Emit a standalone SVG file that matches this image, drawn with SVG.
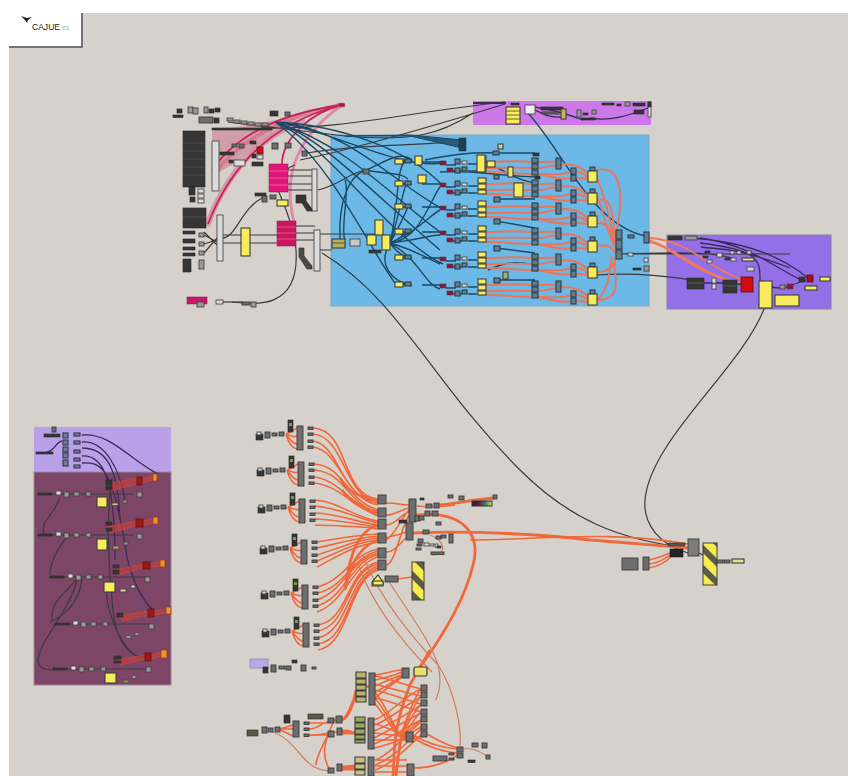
<svg xmlns="http://www.w3.org/2000/svg" xmlns:xlink="http://www.w3.org/1999/xlink" width="848" height="776" viewBox="0 0 848 776">
<style>
.g{fill:#6e6e6e;stroke:#3c3c3c;stroke-width:.9}
.m{fill:#9a9a9a;stroke:#444;stroke-width:.9}
.l{fill:#dcdcdc;stroke:#4a4a4a;stroke-width:.9}
.y{fill:#f8ec5c;stroke:#3c3c3c;stroke-width:1.1}
.d{fill:#363636;stroke:#262626;stroke-width:.6}
.r{fill:#8e1232;stroke:#444;stroke-width:.6}
.s{fill:#5f7f90;stroke:#2c3d48;stroke-width:1.1}
.c{fill:#cf1010;stroke:#5a1010;stroke-width:.8}
.a{fill:#e8962e;stroke:#a03a20;stroke-width:.8}
.p{fill:#e0147a;stroke:#8a1050;stroke-width:.5}
.z{fill:none;stroke:#f0683a;stroke-width:1.6}
.zr{fill:none;stroke:#ea7558;stroke-width:1.9}
.zb{fill:none;stroke:#f0683a;stroke-width:2.8}
.zt{fill:none;stroke:#c9805f;stroke-width:1.2}
.k{fill:none;stroke:#3b3b3e;stroke-width:1.2}
.t{fill:none;stroke:#1a4a66;stroke-width:1.4}
.v{fill:none;stroke:#3e2a5c;stroke-width:1.3}
.rw{fill:none;stroke:#c8245a;stroke-width:1.8}
</style>
<defs>
<filter id="soft" x="-2%" y="-2%" width="104%" height="104%"><feGaussianBlur stdDeviation="0.6"/></filter>
<pattern id="hatch" width="14" height="14" patternUnits="userSpaceOnUse" patternTransform="rotate(45)"><rect width="14" height="14" fill="#f8ec4c"/><rect width="14" height="6" fill="#5c5c4a"/></pattern>
<linearGradient id="spec" x1="0" x2="1"><stop offset="0" stop-color="#222"/><stop offset=".35" stop-color="#5a1a50"/><stop offset=".7" stop-color="#3a8a70"/><stop offset="1" stop-color="#e8d850"/></linearGradient>
<g id="row">
<path class="zr" d="M485 2C505 2 515 0 532 2M485 8C505 8 515 7 532 8M485 12C505 12 515 14 532 14M538 2C548 2 552 1 556 2M538 8C548 8 552 4 556 6M538 14C550 14 560 16 571 12M538 14C555 18 565 20 571 18M561 4C575 4 580 6 588 14M576 12C582 12 585 14 588 18M576 18C582 18 585 18 588 20"/>
<path class="t" d="M402 2H412M422 2H440M446 5H456M453 11H462M468 4H477M468 11H477"/>
<rect class="y" x="395" y="-1" width="8" height="5"/><rect class="s" x="405" y="-1" width="6" height="4"/>
<rect class="r" x="440" y="1" width="6" height="4"/><rect class="r" x="447" y="8" width="6" height="4"/>
<rect class="s" x="455" y="-1" width="5" height="5"/><rect class="s" x="455" y="8" width="5" height="5"/><rect class="l" x="462" y="1" width="5" height="3"/><rect class="s" x="462" y="7" width="5" height="4"/>
<rect class="y" x="478" y="-4" width="8" height="5"/><rect class="y" x="478" y="2" width="8" height="5"/><rect class="y" x="478" y="8" width="8" height="4"/>
<rect class="s" x="532" y="-2" width="6" height="5"/><rect class="s" x="532" y="4" width="6" height="5"/><rect class="s" x="532" y="10" width="6" height="5"/>
<rect class="s" x="556" y="-2" width="5" height="11"/><rect class="s" x="571" y="8" width="5" height="6"/><rect class="s" x="571" y="15" width="5" height="6"/>
<rect class="s" x="590" y="7" width="5" height="4"/><rect class="y" x="588" y="11" width="9" height="11"/>
</g>
<g id="fan">
<path class="z" d="M286 434C292 432 294 430 297 428M286 434C292 436 294 438 297 436M286 434C290 440 294 444 297 444M286 434C288 442 292 448 297 449"/>
<rect class="d" x="256" y="434" width="7" height="6"/><rect class="l" x="257" y="432" width="4" height="3"/>
<rect class="g" x="265" y="432" width="5" height="6"/><rect class="g" x="272" y="433" width="5" height="3"/><rect class="g" x="279" y="432" width="5" height="4"/>
<rect class="d" x="288" y="420" width="5" height="12"/><rect x="289" y="423" width="3" height="3" fill="#7a9a50"/>
<rect class="g" x="297" y="426" width="6" height="24"/>
<rect class="g" x="308" y="427" width="5" height="2.400"/><rect class="g" x="308" y="433" width="5" height="2.400"/><rect class="g" x="308" y="440" width="5" height="2.400"/><rect class="g" x="308" y="446" width="5" height="2.400"/>
</g>
<g id="lrow">
<path class="k" d="M44 0H66M70 0H76M82 0H88"/>
<path class="d" d="M40 -1h14v2h-14z"/>
<rect class="l" x="58" y="-3" width="5" height="4"/><rect class="m" x="66" y="-2" width="5" height="5"/><rect class="m" x="76" y="-2" width="5" height="4"/>
<rect class="m" x="88" y="-2" width="5" height="4"/>
<path class="k" d="M92 0H136"/>
</g>
</defs>
<rect width="848" height="776" fill="#ffffff"/>
<rect x="9" y="13" width="839" height="763" fill="#d6d2cb"/>
<g filter="url(#soft)">
<g id="group-blue"><rect x="331" y="135" width="318" height="171" fill="#6cb8e6" stroke="#7aa9c4"/></g>
<g id="group-pink"><rect x="473" y="101" width="178" height="24" fill="#cc78e8"/></g>
<g id="group-violet"><rect x="667" y="235" width="164" height="74" fill="#9370e8" stroke="#8a80a8"/></g>
<g id="group-lilac"><rect x="34" y="427" width="137" height="45" fill="#b9a0e8"/></g>
<g id="group-maroon"><rect x="34" y="472" width="137" height="213" fill="#7d4466" stroke="#9a8aa0"/></g>

<g id="connectors">
<path d="M212 131L300 116L240 160L213 176Z" fill="#c8607e" opacity=".45"/>
<path d="M207 226C222 185 250 140 305 120" fill="none" stroke="#d88aa2" stroke-width="6" opacity=".8"/>
<path d="M213 175C240 140 280 118 340 105" fill="none" stroke="#d8708e" stroke-width="4" opacity=".8"/>
<path class="rw" d="M208 224C225 180 260 125 342 105M212 170C240 130 290 112 342 105"/>
<path d="M294 222C286 190 285 145 342 105" fill="none" stroke="#e08aa4" stroke-width="3"/>
<path class="rw" d="M282 164C282 140 310 112 342 105"/>
<path class="k" d="M228 122L345 136C410 142 440 135 473 113M262 128C340 130 410 112 505 102M300 160C350 150 420 130 505 104"/>
<path class="k" d="M307 153C350 146 400 145 462 142"/>
<path class="k" d="M222 238C236 238 240 210 262 198M223 235H277M223 243H277M296 226H315M296 233H315M296 240H315M288 170H312M288 176H312M288 184H312M288 190H312M318 190C340 185 350 172 366 170M319 234H375M319 250H332"/>
<path class="k" d="M232 302C255 305 300 310 296 250C294 225 282 200 278 190C276 180 285 168 295 165"/>
<path class="k" d="M223 302H243"/>
<path class="k" d="M322 253C400 300 430 380 520 470C570 520 620 540 688 548"/>
<path class="k" d="M764 309C740 370 650 440 645 500C643 525 660 545 688 553"/>
<path class="t" d="M275 122C320 135 380 200 440 250M275 122C330 130 400 170 443 163M275 122C340 125 410 150 443 186M275 122C350 128 395 185 443 209M275 122C350 145 400 205 443 234M275 122C330 145 390 240 443 264M275 122C330 160 370 250 395 283"/>
<path d="M345 136H410L462 148L462 140L410 135Z" fill="#2a5a74" stroke="#1a4a66"/>
<path class="t" d="M345 180C350 190 340 230 345 240M366 170C350 175 338 200 340 239M366 170C385 162 400 150 412 160M366 170C390 175 400 172 408 179"/>
<path class="t" d="M390 243C400 200 395 175 405 160M390 243C400 215 402 190 408 180M390 243C400 225 405 215 408 206M390 243C400 240 405 232 410 231M390 243C395 250 400 255 408 258M390 243C380 260 385 275 405 284M390 243C420 240 430 200 440 187M390 243C420 230 430 215 440 210M390 243C420 240 430 235 440 235M390 243C415 250 430 260 440 264M390 243C420 260 425 285 440 289"/>
<path class="t" d="M425 160C450 155 470 152 496 153H535M440 172C470 170 490 175 535 177M496 199H535M496 221L535 228M496 248L535 253M496 280H535M490 165C505 170 515 180 535 183M488 270C510 260 520 262 535 265"/>
<path class="t" d="M526 111C560 145 590 225 646 236"/>
<path class="k" d="M597 275C640 272 680 278 690 280M620 254C660 253 720 250 735 260M625 254H790"/>
<path class="zr" d="M597 170C620 165 625 190 616 234M597 200C615 195 612 220 616 244M597 223C612 222 612 235 616 250M597 246C610 244 612 248 616 254M597 272C612 272 614 264 616 256M597 300C628 300 610 270 616 256M597 178C612 215 608 225 616 238M597 196C605 215 607 235 616 248M597 300C612 285 608 270 612 256"/>
<path d="M649 238C690 240 710 270 741 279M649 240C680 250 700 275 741 283M649 242C670 245 690 270 730 281" fill="none" stroke="#f07a5a" stroke-width="1.800"/>
<path class="v" d="M685 238C740 240 780 255 808 278M700 238C750 245 770 265 805 282M701 247C720 250 730 245 790 268M760 281C760 260 760 250 700 243M772 287C785 290 790 285 806 280M737 284H743M716 283H723M704 283H712"/>
<path class="v" d="M481 103H505M535 110C545 115 550 118 563 117M535 107C555 110 570 115 583 120M590 118C610 122 630 115 648 108"/>

<path class="v" d="M82 435C110 432 130 460 158 474M82 442C105 440 120 470 125 500M82 448C105 448 118 465 120 520M82 456C100 455 115 470 115 560M82 463C100 462 112 465 125 545C128 570 140 600 155 612M42 453C55 453 55 442 62 441"/>
<path class="k" d="M60 497C55 515 40 520 44 533M70 533C60 545 50 560 50 575M78 577C70 590 50 600 52 620M77 580C70 610 40 640 38 660C38 670 48 670 58 670M82 578C80 605 60 618 50 622"/>
<path class="k" d="M112 478C105 520 110 580 112 600C114 640 130 660 145 656M107 592C105 610 125 660 145 658"/>
<g stroke="#e0482e" fill="#c8403a" opacity=".65"><path d="M107 484L137 478V484L110 491Z"/><path d="M107 527L136 521V526L110 533Z"/><path d="M115 570L143 564V568L118 575Z"/><path d="M120 616L148 611V615L122 621Z"/><path d="M118 660L145 655V659L120 665Z"/><path d="M142 479L153 476V480L142 483Z"/><path d="M143 521L153 519V523L143 525Z"/><path d="M150 564L160 562V566L150 567Z"/><path d="M154 611L166 609V613L154 615Z"/><path d="M151 655L161 652V656L151 659Z"/></g>

<path class="z" d="M313 428C350 430 340 495 378 499M313 434C345 436 345 500 378 501M313 441C340 445 340 498 378 503M313 447C340 450 345 500 378 505"/>
<path class="z" d="M314 464C345 466 345 500 378 510M314 470C345 472 348 505 378 512M314 477C340 480 350 505 378 514M314 483C340 486 350 505 378 516"/>
<path class="z" d="M315 500C340 502 355 518 378 521M315 506C340 508 355 518 378 523M315 513C340 514 355 522 378 525M315 519C340 520 355 524 378 527M315 525C340 526 360 526 378 529"/>
<path class="z" d="M317 542C340 538 355 535 378 534M317 548C340 543 355 538 378 536M317 555C340 548 355 540 378 538M317 561C340 552 355 542 378 540M317 567C340 555 355 545 378 542"/>
<path class="z" d="M317 587C345 580 350 555 378 549M317 593C345 588 350 558 378 551M317 600C345 590 350 560 378 553M317 606C345 598 352 560 378 555M317 612C345 602 352 565 378 557"/>
<path class="z" d="M318 625C350 620 345 570 378 562M318 631C350 625 345 572 378 564M318 638C350 630 348 575 378 566M318 644C350 640 348 578 378 568M318 650C350 645 348 580 378 570"/>
<path class="zb" d="M345 590C352 555 365 545 378 540M345 590C350 550 360 530 378 525"/>
<path class="zb" d="M340 478C350 495 362 497 378 500M342 490C352 505 365 510 378 512"/>
<path class="z" d="M386 503C400 503 400 505 409 505M386 515C395 515 400 510 409 508M386 525C395 525 400 515 409 512M386 538C395 535 400 535 406 532M386 552C395 552 398 545 406 538M386 565C395 565 400 530 409 515M386 540C395 535 400 520 409 510"/>
<path class="zb" d="M412 533C470 530 550 535 590 540C620 542 650 545 688 548"/>
<path class="zb" d="M416 515C470 510 480 540 473 565C465 600 440 640 418 670"/>
<path class="z" d="M470 540C540 540 610 530 688 544"/>
<path class="z" d="M417 506C430 508 445 506 455 505"/>
<path class="zb" d="M439 505C460 503 470 500 494 498"/>
<path class="z" d="M398 579L412 577"/>
<path class="zt" d="M358 565C375 610 410 650 432 672M363 556C380 600 415 640 438 665C442 680 440 690 436 700M388 580C410 615 430 640 438 665"/>
<path class="zt" d="M430 535C445 540 448 555 432 555"/>
<path class="z" d="M649 560C660 558 665 555 672 552M649 564C660 563 665 558 672 554M649 568C660 566 668 560 672 556"/>
<path class="k" d="M699 553L712 560"/>

<path class="z" d="M375 675C385 674 395 670 402 670M375 680C385 678 395 675 402 672M375 686C385 682 395 677 402 675M375 692C385 688 395 680 402 676M375 698C385 690 395 682 402 677"/>
<path class="z" d="M375 676C395 680 405 685 421 689M375 684C395 690 405 692 421 696M375 690C395 695 405 700 421 704M375 698C395 702 405 708 421 712"/>
<path class="z" d="M374 720C390 715 405 695 421 689M374 725C390 720 405 705 421 697M374 731C390 725 405 715 421 705M374 738C390 730 405 722 421 713M374 744C390 738 405 728 421 720"/>
<path class="z" d="M374 724C385 726 395 732 406 735M374 733C385 734 395 736 406 736M374 740H406M374 748C385 746 395 742 406 738"/>
<path class="z" d="M400 737C405 725 412 700 421 689M400 737C405 728 412 705 421 697M400 737C406 730 412 712 421 705M400 737C408 732 414 718 421 712M400 737C408 733 414 725 421 720M400 737C410 735 415 730 421 727M400 737H421"/>
<path class="z" d="M375 698C385 710 392 725 400 737M375 692C385 705 392 720 400 737M375 704C385 715 392 730 400 737"/>
<path class="z" d="M375 760C390 755 405 735 421 722M375 765C390 760 405 745 421 729M375 770C390 765 405 750 421 735"/>
<path class="z" d="M375 760H407M375 766H407M375 772H407"/>
<path class="zb" d="M393 776C395 750 392 730 410 685C415 675 420 668 430 650"/>
<path class="zb" d="M396 776C398 755 400 745 402 732"/>
<path class="zb" d="M342 719C352 718 350 690 369 686M342 720C352 715 355 695 356 690"/>
<path class="zb" d="M342 731C350 730 352 733 355 733M342 733H355"/>
<path class="zb" d="M342 767C348 767 350 766 355 766M342 769H355"/>
<path class="z" d="M309 723H328M309 729C320 729 320 721 336 720M309 735H328M309 735C320 736 322 733 337 732M334 721C325 740 320 755 330 770M328 735C320 750 316 760 316 765M280 729C290 726 290 726 293 725M280 729H293M280 730C288 733 290 735 293 736"/>
<path class="zt" d="M270 731C300 740 300 770 330 771"/>
<path class="z" d="M413 735C430 745 445 748 457 749M413 738C430 748 445 752 457 753M414 768C430 768 450 762 457 755M427 734C445 745 450 745 457 748"/>
<path class="zt" d="M463 749C470 748 480 750 488 757M438 665C455 690 462 730 460 747"/>
</g>

<g id="logo-box"><rect x="9" y="13" width="72" height="33" fill="#fff"/><path d="M82 13V47H9" fill="none" stroke="#555" stroke-width="1.500"/></g>

<g id="nodes-topleft">
<rect class="d" x="177" y="109" width="5" height="4"/><rect class="d" x="173" y="115" width="10" height="2.500"/><rect class="m" x="188" y="107" width="5" height="6"/><rect class="m" x="193" y="108" width="5" height="6"/><rect class="m" x="204" y="107" width="4" height="6"/><rect class="d" x="209" y="109" width="5" height="4"/><rect class="d" x="215" y="108" width="5" height="4"/><rect class="g" x="199" y="117" width="14" height="6"/><rect class="d" x="214" y="118" width="5" height="5"/>
<rect class="m" x="227" y="118" width="6" height="3"/><rect class="m" x="234" y="120" width="6" height="3"/><rect class="m" x="241" y="121" width="6" height="3"/><rect class="m" x="248" y="122" width="6" height="3"/><rect class="m" x="255" y="123" width="6" height="3"/><rect class="m" x="262" y="123" width="6" height="3"/><rect class="d" x="212" y="128" width="60" height="2"/><rect class="d" x="270" y="111" width="8" height="5"/><rect class="g" x="285" y="112" width="5" height="4"/>
</g>
<g id="block-dark-1"><rect class="d" x="183" y="131" width="22" height="56"/><path d="M183 143H205M183 151H205M183 159H205M183 167H205M183 175H205" stroke="#5a5a5a" stroke-width=".6"/><rect class="d" x="189" y="187" width="6" height="8"/><rect class="d" x="190" y="197" width="5" height="5"/><rect class="l" x="198" y="189" width="6" height="4"/><rect class="l" x="198" y="194" width="6" height="4"/><rect class="l" x="198" y="199" width="6" height="4"/></g>
<g id="bar-1"><rect class="l" x="212" y="141" width="7" height="50"/></g>
<g id="cluster-a"><rect class="d" x="220" y="152" width="14" height="3"/><rect class="g" x="239" y="144" width="5" height="4"/><rect class="g" x="232" y="144" width="5" height="3"/><rect class="d" x="250" y="141" width="6" height="3"/><rect class="c" x="257" y="147" width="6" height="7"/><rect class="l" x="257" y="155" width="6" height="4"/><rect class="d" x="252" y="162" width="11" height="4"/><rect class="l" x="234" y="160" width="11" height="6"/><rect class="d" x="252" y="154" width="4" height="4"/><rect class="d" x="229" y="160" width="4" height="3"/><rect class="g" x="272" y="143" width="6" height="6"/><rect class="g" x="285" y="143" width="6" height="5"/><rect class="g" x="302" y="151" width="5" height="5"/></g>
<g id="magenta-1"><rect class="p" x="269" y="164" width="19" height="28"/><path d="M269 171H288M269 178H288M269 185H288" stroke="#f080b0" stroke-width=".7"/></g>
<g id="c-bar-1"><rect class="l" x="312" y="169" width="5" height="42"/><path class="d" d="M296 195h10v6l6 8v2h-5l-5-8h-6z"/><rect class="d" x="255" y="193" width="11" height="3"/><rect class="g" x="262" y="196" width="5" height="6"/><rect class="g" x="270" y="195" width="6" height="4"/><rect class="y" x="277" y="200" width="11" height="6"/></g>
<g id="block-dark-2"><rect class="d" x="183" y="208" width="23" height="20"/><path d="M183 217H206" stroke="#666" stroke-width=".6"/><path class="d" d="M183 231h12v3h-12zM183 239h12v4h-12zM183 247h12v3h-12zM183 253h12v3h-12zM183 259h8v13h-8z"/><rect class="m" x="199" y="233" width="5" height="4"/><rect class="m" x="199" y="242" width="5" height="4"/><rect class="m" x="199" y="251" width="5" height="4"/><rect class="m" x="199" y="260" width="5" height="9"/><path class="k" d="M204 235L217 242M204 244L217 240M204 253L217 238M204 232L217 245"/></g>
<g id="bar-2"><rect class="l" x="217" y="215" width="6" height="46"/></g>
<g id="yellow-tall"><rect class="y" x="241" y="228" width="9" height="28"/></g>
<g id="magenta-2"><rect class="p" x="277" y="221" width="19" height="25" style="fill:#c8145e"/><path d="M277 227H296M277 233H296M277 239H296" stroke="#e870a0" stroke-width=".7"/></g>
<g id="c-bar-2"><rect class="l" x="314" y="230" width="6" height="41"/><path class="d" d="M299 248h5v8l8 10v3h-5l-8-12z" style="fill:#4a4a4a"/></g>
<g id="magenta-3"><rect class="p" x="187" y="297" width="20" height="7" style="fill:#c8146a"/><rect class="m" x="197" y="302" width="7" height="5"/><rect class="l" x="216" y="300" width="7" height="4"/><rect class="g" x="242" y="302" width="8" height="3"/><rect class="m" x="251" y="302" width="5" height="5"/></g>
<g id="red-end"><rect x="338" y="103" width="7" height="4" rx="1.500" fill="#c8104e" stroke="#888" stroke-width=".6"/></g>
<g id="nodes-blue-left"><rect class="y" x="332" y="239" width="13" height="9" style="fill:#b9b05a"/><path d="M332 243H345" stroke="#3c3c3c" stroke-width=".8"/><rect class="l" x="350" y="239" width="10" height="7" style="fill:#c8c8c8"/><rect class="y" x="375" y="220" width="8" height="15"/><rect class="y" x="367" y="235" width="9" height="10"/><rect class="y" x="382" y="235" width="8" height="15"/><rect class="d" x="369" y="250" width="12" height="3"/><rect class="g" x="363" y="169" width="6" height="5"/></g>
<g id="bundle-top"><rect x="459" y="138" width="7" height="13" fill="#1d3f4f" stroke="#1a2f3a" stroke-width=".5"/><rect class="y" x="498" y="144" width="5" height="5" style="fill:#c8d0a0"/></g>
<g id="blue-rows">
<use xlink:href="#row" href="#row" y="160"/>
<use xlink:href="#row" href="#row" y="182"/>
<use xlink:href="#row" href="#row" y="205"/>
<use xlink:href="#row" href="#row" y="230"/>
<use xlink:href="#row" href="#row" y="256"/>
<use xlink:href="#row" href="#row" y="283"/>
</g>
<g id="nodes-blue-extra">
<rect class="y" x="415" y="156" width="7" height="9"/><rect class="y" x="418" y="175" width="8" height="8"/>
<rect class="y" x="477" y="155" width="8" height="17"/><rect class="y" x="487" y="161" width="8" height="6"/>
<rect class="y" x="508" y="167" width="5" height="10"/><rect class="y" x="514" y="183" width="9" height="14"/><rect class="y" x="503" y="272" width="5" height="7" style="fill:#a8b070"/>
<rect class="s" x="493" y="151" width="6" height="4"/><rect class="s" x="494" y="175" width="5" height="4"/><rect class="s" x="494" y="197" width="6" height="5"/><rect class="s" x="494" y="219" width="6" height="5"/><rect class="s" x="494" y="246" width="6" height="5"/><rect class="s" x="494" y="278" width="6" height="5"/>
<rect class="d" x="533" y="153" width="6" height="3"/><rect class="d" x="535" y="176" width="5" height="3"/>
<rect class="s" x="616" y="230" width="6" height="9"/><rect class="s" x="616" y="240" width="6" height="9"/><rect class="s" x="616" y="250" width="6" height="9"/>
<rect class="s" x="628" y="235" width="6" height="3"/><rect class="s" x="644" y="232" width="5" height="11"/><rect class="l" x="628" y="253" width="5" height="3"/><rect class="l" x="644" y="258" width="4" height="4"/><rect class="d" x="633" y="268" width="8" height="2"/><rect class="m" x="644" y="266" width="5" height="5"/>
</g>
<g id="nodes-pink">
<rect class="y" x="506" y="107" width="14" height="17"/><path d="M506 111H520M506 115H520M506 119H520" stroke="#5a5a30" stroke-width=".9"/>
<rect class="l" x="525" y="105" width="10" height="9" style="fill:#eee"/><rect x="473" y="102" width="33" height="2" fill="#3e2a5c"/><rect class="d" x="511" y="103" width="8" height="2"/>
<rect class="d" x="541" y="107" width="22" height="3"/><rect class="g" x="542" y="112" width="17" height="2"/><rect class="y" x="561" y="109" width="5" height="10" style="fill:#c8b848"/><rect class="m" x="577" y="110" width="4" height="7"/><rect class="d" x="583" y="113" width="5" height="2"/><rect class="m" x="592" y="110" width="4" height="4"/><rect class="d" x="581" y="118" width="14" height="2"/>
<rect class="d" x="602" y="103" width="12" height="2"/><rect class="d" x="617" y="104" width="4" height="2"/><rect class="m" x="625" y="102" width="5" height="4"/><rect class="d" x="633" y="103" width="12" height="3"/><rect class="d" x="634" y="110" width="10" height="4"/><rect class="l" x="648" y="102" width="3" height="15"/><rect class="d" x="648" y="102" width="3" height="5"/>
</g>
<g id="nodes-violet">
<rect class="d" x="668" y="236" width="14" height="4"/><rect class="m" x="685" y="236" width="12" height="4"/>
<rect class="d" x="687" y="278" width="17" height="11"/><path d="M687 283H704" stroke="#666" stroke-width=".7"/>
<rect class="l" x="712" y="278" width="4" height="5"/><rect class="l" x="712" y="284" width="4" height="5"/>
<rect class="d" x="723" y="280" width="14" height="13"/><path d="M723 286H737" stroke="#6a6a6a" stroke-width=".7"/>
<rect class="c" x="741" y="277" width="12" height="15"/>
<rect class="y" x="759" y="281" width="13" height="27"/><rect class="y" x="775" y="295" width="24" height="11"/>
<rect class="r" x="787" y="284" width="6" height="5"/><rect class="m" x="780" y="285" width="5" height="4"/>
<rect class="d" x="799" y="277" width="6" height="5"/><rect class="c" x="807" y="275" width="6" height="7" style="fill:#a01018"/>
<rect class="y" x="820" y="277" width="10" height="4"/><rect class="y" x="805" y="286" width="12" height="4"/>
<rect class="d" x="703" y="256" width="5" height="2"/><rect class="l" x="707" y="260" width="5" height="3"/><rect class="d" x="705" y="251" width="5" height="2"/><rect class="l" x="717" y="253" width="5" height="4"/><rect class="d" x="725" y="258" width="5" height="2"/><rect class="l" x="731" y="258" width="5" height="3"/><rect class="l" x="730" y="251" width="4" height="3"/><rect class="l" x="737" y="251" width="4" height="3"/><rect class="l" x="747" y="251" width="4" height="3"/><rect class="y" x="742" y="258" width="12" height="3" style="fill:#e8dc90"/><rect class="l" x="747" y="267" width="7" height="4"/>
</g>
<g id="nodes-lilac">
<rect class="g" x="52" y="427" width="4" height="5"/><rect class="d" x="44" y="434" width="16" height="3"/><rect class="d" x="36" y="452" width="17" height="2"/>
<rect class="s" x="63" y="433" width="5" height="5" style="fill:#7a7a98"/><rect class="s" x="63" y="440" width="5" height="5" style="fill:#7a7a98"/><rect class="s" x="63" y="447" width="5" height="5" style="fill:#7a7a98"/><rect class="s" x="63" y="453" width="5" height="5" style="fill:#7a7a98"/><rect class="s" x="63" y="460" width="5" height="6" style="fill:#7a7a98"/>
<rect class="s" x="74" y="433" width="6" height="3" style="fill:#7a7a98"/><rect class="s" x="74" y="441" width="6" height="3" style="fill:#7a7a98"/><rect class="s" x="74" y="450" width="6" height="3" style="fill:#7a7a98"/><rect class="s" x="74" y="458" width="6" height="3" style="fill:#7a7a98"/><rect class="s" x="74" y="465" width="6" height="3" style="fill:#7a7a98"/>
</g>
<g id="nodes-maroon">
<use xlink:href="#lrow" href="#lrow" x="-2" y="494"/><use xlink:href="#lrow" href="#lrow" x="-2" y="535"/><use xlink:href="#lrow" href="#lrow" x="10" y="577"/><use xlink:href="#lrow" href="#lrow" x="15" y="624"/><use xlink:href="#lrow" href="#lrow" x="13" y="669"/>
<rect class="m" x="137" y="492" width="5" height="5"/><rect class="m" x="137" y="534" width="5" height="5"/><rect class="m" x="145" y="577" width="5" height="5"/><rect class="m" x="149" y="624" width="5" height="5"/><rect class="m" x="146" y="667" width="5" height="5"/>
<rect class="y" x="97" y="497" width="10" height="10"/><rect class="y" x="97" y="539" width="10" height="11"/><rect class="y" x="104" y="582" width="11" height="10"/><rect class="y" x="105" y="673" width="11" height="10"/>
<rect class="c" x="137" y="477" width="5" height="8" style="fill:#a01818"/><rect class="c" x="136" y="519" width="7" height="8" style="fill:#a01818"/><rect class="c" x="143" y="562" width="7" height="7" style="fill:#a01818"/><rect class="c" x="148" y="609" width="6" height="8" style="fill:#a01818"/><rect class="c" x="145" y="653" width="6" height="8" style="fill:#a01818"/>
<rect class="a" x="153" y="474" width="4" height="7"/><rect class="a" x="153" y="517" width="5" height="7"/><rect class="a" x="160" y="560" width="5" height="7"/><rect class="a" x="166" y="607" width="5" height="7"/><rect class="a" x="161" y="650" width="6" height="8"/>
<rect class="d" x="106" y="480" width="6" height="5"/><rect class="d" x="106" y="486" width="6" height="4"/><rect class="d" x="106" y="522" width="6" height="3"/><rect class="d" x="106" y="528" width="6" height="3"/><rect class="d" x="113" y="565" width="6" height="3"/><rect class="d" x="113" y="570" width="6" height="4"/><rect class="d" x="117" y="613" width="6" height="4"/><rect class="d" x="114" y="656" width="7" height="3"/><rect class="d" x="114" y="661" width="7" height="2"/>
<rect class="l" x="112" y="503" width="6" height="2.500" style="fill:#d8cf90"/><rect class="m" x="123" y="500" width="4" height="3"/><rect class="l" x="113" y="546" width="6" height="3" style="fill:#c8a060"/><rect class="m" x="124" y="542" width="4" height="3"/><rect class="l" x="120" y="589" width="6" height="3" style="fill:#d8cf90"/><rect class="l" x="131" y="585" width="4" height="3"/><rect class="l" x="126" y="636" width="5" height="2"/><rect class="l" x="135" y="633" width="4" height="2"/><rect class="l" x="123" y="680" width="6" height="3" style="fill:#a08050"/><rect class="l" x="132" y="676" width="4" height="2"/>
</g>
<g id="fans">
<use xlink:href="#fan" href="#fan"/>
<use xlink:href="#fan" href="#fan" x="1" y="36"/>
<use xlink:href="#fan" href="#fan" x="2" y="73"/>
<use xlink:href="#fan" href="#fan" x="4" y="114"/>
<use xlink:href="#fan" href="#fan" x="5" y="159"/>
<use xlink:href="#fan" href="#fan" x="6" y="197"/>
</g>
<g id="nodes-mid">
<rect class="g" x="378" y="495" width="8" height="9"/><rect class="g" x="378" y="508" width="8" height="9"/><rect class="g" x="378" y="519" width="8" height="10"/><rect class="g" x="378" y="533" width="8" height="10"/><rect class="g" x="378" y="548" width="8" height="10"/><rect class="g" x="378" y="560" width="8" height="10"/>
<rect class="g" x="409" y="499" width="7" height="23"/><rect class="g" x="406" y="523" width="7" height="17"/><rect class="d" x="399" y="520" width="8" height="3"/><rect class="g" x="415" y="516" width="5" height="5"/><rect class="g" x="419" y="516" width="5" height="4"/>
<rect class="d" x="420" y="498" width="4" height="2"/><rect class="g" x="426" y="504" width="6" height="4"/><rect class="g" x="434" y="503" width="5" height="5"/><rect class="g" x="425" y="511" width="5" height="5"/><rect class="g" x="432" y="511" width="6" height="5"/><rect class="g" x="436" y="522" width="5" height="3"/><rect class="g" x="448" y="495" width="5" height="3"/><rect class="g" x="459" y="496" width="5" height="4"/><rect class="g" x="493" y="495" width="4" height="4"/>
<rect x="472" y="501" width="20" height="5" fill="url(#spec)" stroke="#333"/>
<rect class="g" x="423" y="530" width="6" height="4"/><rect class="g" x="418" y="539" width="5" height="4"/><rect class="g" x="417" y="544" width="5" height="2"/><rect class="g" x="416" y="548" width="5" height="2"/><rect class="l" x="424" y="543" width="5" height="3"/><rect class="l" x="430" y="544" width="4" height="2"/><rect class="l" x="435" y="544" width="3" height="3"/><rect class="d" x="437" y="546" width="4" height="2"/><rect class="g" x="436" y="536" width="5" height="3"/><rect class="g" x="441" y="535" width="5" height="3"/><rect class="g" x="449" y="534" width="4" height="9"/><rect class="g" x="431" y="552" width="13" height="2.500"/>
<rect x="412" y="562" width="12" height="38" fill="url(#hatch)" stroke="#3c3c3c"/>
<path class="y" d="M372 586V582L378 575L383 582V586Z"/><rect class="y" x="373" y="581" width="10" height="4"/><rect class="g" x="385" y="576" width="13" height="6"/>
</g>
<g id="nodes-lavender"><rect x="250" y="659" width="18" height="9" fill="#b8a8e8" stroke="#9a90c8"/><rect class="d" x="263" y="667" width="5" height="6"/><rect class="g" x="271" y="665" width="5" height="7"/><rect class="g" x="279" y="666" width="6" height="3"/><rect class="g" x="286" y="666" width="5" height="4"/><rect class="g" x="301" y="665" width="5" height="6"/><rect class="g" x="312" y="667" width="4" height="2"/><rect class="d" x="292" y="660" width="5" height="3"/></g>
<g id="nodes-bottom">
<path class="y" d="M356 672h10v6h-10zM356 679h10v5h-10zM356 685h10v5h-10zM356 691h10v5h-10zM356 697h10v5h-10z" style="fill:#b8b070"/><rect class="g" x="369" y="673" width="6" height="32"/>
<path class="y" d="M355 717h10v5h-10zM355 723h10v5h-10zM355 729h10v5h-10zM355 735h10v4h-10zM355 740h10v3h-10z" style="fill:#9aa860"/><rect class="g" x="368" y="718" width="6" height="31"/>
<path class="y" d="M355 757h10v6h-10zM355 764h10v5h-10zM355 770h10v5h-10z" style="fill:#c8c080"/><rect class="g" x="368" y="757" width="6" height="19"/>
<rect class="g" x="402" y="668" width="7" height="10"/><rect x="414" y="667" width="13" height="9" rx="1.500" fill="#e8e070" stroke="#333" stroke-width="1.200"/>
<rect class="g" x="421" y="685" width="6" height="6"/><rect class="g" x="421" y="692" width="6" height="6"/><rect class="g" x="421" y="700" width="6" height="6"/><rect class="g" x="421" y="709" width="6" height="6"/><rect class="g" x="421" y="716" width="6" height="6"/><rect class="g" x="421" y="724" width="6" height="6"/><rect class="g" x="421" y="731" width="6" height="6"/>
<rect class="g" x="406" y="732" width="7" height="10"/><rect class="g" x="407" y="764" width="7" height="12"/>
<rect class="d" x="247" y="730" width="11" height="6" style="fill:#5a5a40"/><rect class="g" x="262" y="727" width="5" height="6"/><rect class="g" x="268" y="728" width="5" height="4"/><rect class="g" x="275" y="727" width="5" height="5"/>
<rect class="d" x="284" y="715" width="6" height="8"/><rect class="g" x="293" y="721" width="6" height="16"/>
<rect class="g" x="304" y="722" width="5" height="2.500"/><rect class="g" x="304" y="728" width="5" height="2.500"/><rect class="g" x="304" y="734" width="5" height="2.500"/>
<rect class="d" x="308" y="714" width="15" height="5" style="fill:#5a5a40"/><rect class="g" x="328" y="718" width="6" height="5"/><rect class="g" x="336" y="716" width="6" height="7"/><rect class="g" x="328" y="731" width="6" height="6"/><rect class="g" x="337" y="728" width="5" height="7"/><rect class="g" x="328" y="768" width="6" height="5"/><rect class="g" x="337" y="764" width="5" height="7"/>
<rect class="g" x="457" y="747" width="6" height="5"/><rect class="g" x="457" y="753" width="6" height="5"/><rect class="g" x="449" y="753" width="5" height="2"/><rect class="g" x="449" y="758" width="5" height="2"/><rect class="g" x="433" y="756" width="14" height="5"/><rect class="g" x="472" y="743" width="6" height="4"/><rect class="g" x="482" y="743" width="5" height="5"/><rect class="g" x="486" y="755" width="4" height="4"/><rect class="d" x="468" y="760" width="7" height="2.500"/>
</g>
<g id="nodes-end">
<rect x="703" y="543" width="14" height="42" fill="url(#hatch)" stroke="#3c3c3c"/>
<rect class="g" x="688" y="539" width="11" height="17" style="fill:#7c7c7c"/><rect class="d" x="670" y="549" width="13" height="8" style="fill:#222"/><rect class="d" x="668" y="543" width="17" height="3" style="fill:#555"/>
<rect class="g" x="622" y="558" width="16" height="12"/><rect class="g" x="643" y="557" width="6" height="13"/>
<rect class="g" x="717" y="560" width="6" height="3"/><rect class="g" x="724" y="560" width="6" height="3"/><rect class="y" x="732" y="559" width="12" height="4" style="fill:#e8e090"/>
</g>
</g>
<g id="logo">
<path d="M21 16l6 2l5-1l-4 3l-1 3l-2-3z" fill="#222"/>
<text x="32" y="30" font-family="Liberation Sans, sans-serif" font-size="8.500" fill="#222" textLength="28" lengthAdjust="spacingAndGlyphs">CAJUE</text>
<text x="60" y="30" font-family="Liberation Sans, sans-serif" font-size="7" fill="#7cc8d0">.es</text>
</g>
</svg>
